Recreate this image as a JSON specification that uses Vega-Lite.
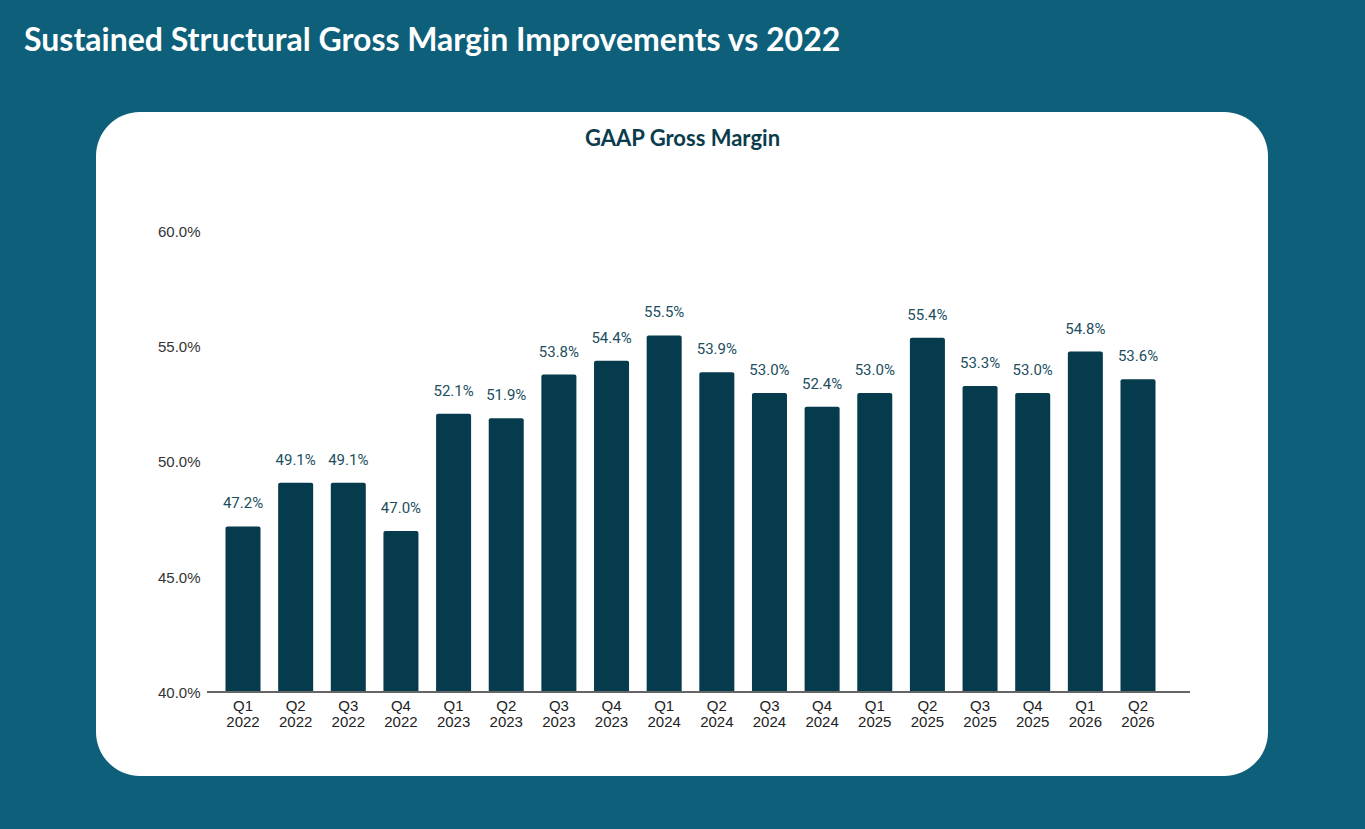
{
  "$schema": "https://vega.github.io/schema/vega-lite/v6.json",
  "autosize": "none",
  "width": 1172,
  "height": 664,
  "padding": {"left": 96, "top": 112, "right": 97, "bottom": 53},
  "background": "#0d5f7a",
  "config": {
    "view": {"fill": "white", "stroke": null, "cornerRadius": 44}
  },
  "title": {
    "text": "Sustained Structural Gross Margin Improvements vs 2022",
    "anchor": "start",
    "frame": "group",
    "dx": -72,
    "offset": 29,
    "baseline": "alphabetic",
    "font": "Lato",
    "fontSize": 32,
    "fontWeight": "bold",
    "color": "white"
  },
  "data": {
    "values": [
      {"quarter": "Q1 2022", "margin": 0.472},
      {"quarter": "Q2 2022", "margin": 0.491},
      {"quarter": "Q3 2022", "margin": 0.491},
      {"quarter": "Q4 2022", "margin": 0.470},
      {"quarter": "Q1 2023", "margin": 0.521},
      {"quarter": "Q2 2023", "margin": 0.519},
      {"quarter": "Q3 2023", "margin": 0.538},
      {"quarter": "Q4 2023", "margin": 0.544},
      {"quarter": "Q1 2024", "margin": 0.555},
      {"quarter": "Q2 2024", "margin": 0.539},
      {"quarter": "Q3 2024", "margin": 0.530},
      {"quarter": "Q4 2024", "margin": 0.524},
      {"quarter": "Q1 2025", "margin": 0.530},
      {"quarter": "Q2 2025", "margin": 0.554},
      {"quarter": "Q3 2025", "margin": 0.533},
      {"quarter": "Q4 2025", "margin": 0.530},
      {"quarter": "Q1 2026", "margin": 0.548},
      {"quarter": "Q2 2026", "margin": 0.536}
    ]
  },
  "resolve": {"axis": {"x": "independent"}},
  "layer": [
    {
      "mark": {"type": "bar", "color": "#053b4c", "cornerRadiusTopLeft": 2, "cornerRadiusTopRight": 2},
      "encoding": {
        "x": {
          "field": "quarter",
          "type": "ordinal",
          "sort": null,
          "scale": {"range": [129.5, 1059.5], "paddingInner": 0.335, "paddingOuter": 0},
          "axis": {
            "orient": "bottom",
            "offset": -84,
            "title": null,
            "domain": false,
            "ticks": false,
            "labelAngle": 0,
            "labelPadding": 6,
            "labelFont": "Liberation Sans",
            "labelFontSize": 15,
            "labelColor": "#222222",
            "labelLineHeight": 16,
            "labelExpr": "split(datum.label, ' ')"
          }
        },
        "y": {
          "field": "margin",
          "type": "quantitative",
          "scale": {"domain": [0.36348, 0.65217], "nice": false, "zero": false},
          "axis": {
            "values": [0.40, 0.45, 0.50, 0.55, 0.60],
            "format": ".1%",
            "offset": -112,
            "title": null,
            "domain": false,
            "ticks": false,
            "grid": false,
            "labelPadding": 8,
            "labelFont": "Liberation Sans",
            "labelFontSize": 15,
            "labelColor": "#333333"
          }
        },
        "y2": {"datum": 0.40}
      }
    },
    {
      "mark": {"type": "text", "baseline": "alphabetic", "dy": -18, "font": "Roboto", "fontSize": 15, "color": "#214e5e"},
      "encoding": {
        "x": {
          "field": "quarter",
          "type": "ordinal",
          "sort": null,
          "axis": {
            "orient": "top",
            "offset": -46,
            "title": "GAAP Gross Margin",
            "titleFont": "Lato",
            "titleFontSize": 22,
            "titleFontWeight": "bold",
            "titleColor": "#0b3c4c",
            "titlePadding": 8,
            "titleX": 586,
            "labels": false,
            "ticks": false,
            "domain": false
          }
        },
        "y": {"field": "margin", "type": "quantitative"},
        "text": {"field": "margin", "type": "quantitative", "format": ".1%"}
      }
    },
    {
      "mark": {"type": "rule", "color": "#666666", "strokeWidth": 1.5, "xOffset": -36, "x2Offset": 52},
      "encoding": {
        "x": {"datum": "Q1 2022", "type": "ordinal", "axis": null},
        "x2": {"datum": "Q2 2026"},
        "y": {"datum": 0.40, "type": "quantitative"}
      }
    }
  ]
}
